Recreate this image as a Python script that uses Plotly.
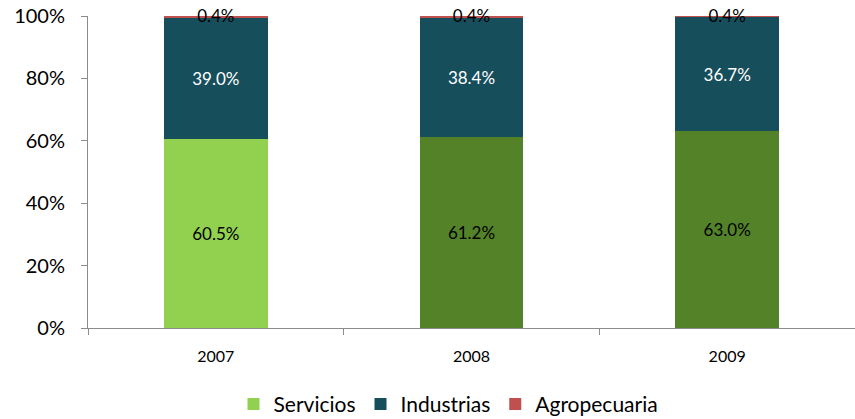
import plotly.graph_objects as go

years = ["2007", "2008", "2009"]
servicios = [60.5, 61.2, 63.0]
industrias = [39.0, 38.4, 36.7]
agropecuaria = [0.4, 0.4, 0.4]

serv_colors = ["#92D050", "#548229", "#548229"]
font = "Lato, Calibri, Arial, sans-serif"

fig = go.Figure()
fig.add_trace(go.Bar(
    x=years, y=servicios, name="Servicios",
    marker=dict(color=serv_colors, line=dict(width=0)),
    text=[f"{v:.1f}%" for v in servicios], textposition="inside",
    insidetextanchor="middle", textangle=0,
    textfont=dict(color="black", size=17, family=font),
))
fig.add_trace(go.Bar(
    x=years, y=industrias, name="Industrias",
    marker=dict(color="#174E5C", line=dict(width=0)),
    text=[f"{v:.1f}%" for v in industrias], textposition="inside",
    insidetextanchor="middle", textangle=0,
    textfont=dict(color="white", size=17, family=font),
))
fig.add_trace(go.Bar(
    x=years, y=agropecuaria, name="Agropecuaria",
    marker=dict(color="#C0504D", line=dict(width=0)),
))

# small-segment labels sitting on top edge of each stack
tops = [s + i + a - 0.6 for s, i, a in zip(servicios, industrias, agropecuaria)]
fig.add_trace(go.Scatter(
    x=years, y=tops, mode="text", text=[f"{a:.1f}%" for a in agropecuaria],
    textposition="middle center", showlegend=False, hoverinfo="skip",
    textfont=dict(color="black", size=17, family=font), cliponaxis=False,
))

fig.update_layout(
    barmode="stack",
    bargap=0.595,
    width=855, height=419,
    margin=dict(l=88, r=0, t=16, b=91, autoexpand=False),
    plot_bgcolor="white", paper_bgcolor="white",
    font=dict(family=font, color="black"),
    uniformtext=dict(mode="show", minsize=10),
    legend=dict(orientation="h", x=0.47, xanchor="center", y=-0.245, yanchor="middle",
                font=dict(size=21), itemwidth=30, traceorder="normal"),
    showlegend=True,
)
fig.update_yaxes(range=[0, 100], dtick=20, ticksuffix="%", showgrid=False,
                 showline=True, linecolor="#8C8C8C", linewidth=1,
                 ticks="outside", ticklen=6, tickcolor="#8C8C8C",
                 ticklabelstandoff=12, automargin=False,
                 tickfont=dict(size=20), zeroline=False)
fig.update_xaxes(type="category", showline=True, linecolor="#8C8C8C", linewidth=1,
                 ticks="outside", ticklen=6, tickcolor="#8C8C8C",
                 tickson="boundaries", ticklabelstandoff=14, automargin=False,
                 tickfont=dict(size=16))

# drop the browser's default body margin so the figure fills the window
fig.write_html("out.html", config={"displayModeBar": False},
               post_script="document.body.style.margin='0';")
